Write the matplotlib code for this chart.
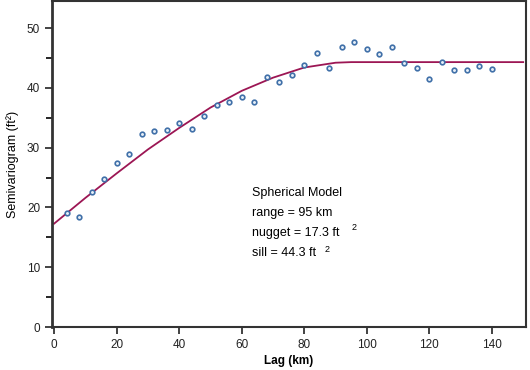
import numpy as np
import matplotlib.pyplot as plt

plt.rcParams["font.family"] = ["Liberation Sans", "DejaVu Sans"]

# experimental semivariogram (lag in km, gamma in ft^2)
lag = [4, 8, 12, 16, 20, 24, 28, 32, 36, 40, 44, 48, 52, 56, 60, 64, 68,
       72, 76, 80, 84, 88, 92, 96, 100, 104, 108, 112, 116, 120, 124, 128,
       132, 136, 140]
gamma = [19.0, 18.4, 22.6, 24.7, 27.5, 28.9, 32.3, 32.7, 32.9, 34.1, 33.1,
         35.3, 37.1, 37.7, 38.4, 37.7, 41.8, 40.9, 42.2, 43.8, 45.9, 43.3,
         46.9, 47.6, 46.5, 45.7, 46.9, 44.1, 43.3, 41.5, 44.3, 42.9, 42.9,
         43.6, 43.2]

# fitted spherical model
model_lag = [0, 10, 20, 30, 40, 50, 60, 70, 80, 90, 95, 150]
model_gamma = [17.3, 21.6, 25.7, 29.7, 33.3, 36.7, 39.5, 41.7, 43.4, 44.2, 44.3, 44.3]

fig = plt.figure(figsize=(5.3, 3.7), dpi=100)
ax = fig.add_axes([0.098, 0.116, 0.895, 0.881])

ax.plot(model_lag, model_gamma, color="#9c1654", linewidth=1.3, zorder=2)
ax.scatter(lag, gamma, s=11, facecolors="#e8f0f8", edgecolors="#3f6fa8",
           linewidths=1.2, zorder=3)

ax.set_xlim(-0.7, 151)
ax.set_ylim(0, 54.5)
ax.set_xticks(np.arange(0, 141, 20))
ax.set_yticks(np.arange(0, 51, 10))
ax.set_yticks(np.arange(5, 51, 10), minor=True)
ax.tick_params(direction="out", length=5, width=1.2, labelsize=8.5, colors="#222222")
ax.tick_params(which="minor", length=4, width=1.2)

for s in ax.spines.values():
    s.set_color("#333333")
    s.set_linewidth(1.5)
ax.spines["left"].set_linewidth(2)

ax.set_xlabel("Lag (km)", fontsize=8.5, fontweight="bold", labelpad=3)
ax.set_ylabel("Semivariogram (ft²)", fontsize=9, labelpad=6)

fs = 9
ax.text(63.3, 22.4, "Spherical Model", fontsize=fs, va="center")
ax.text(63.3, 19.1, "range = 95 km", fontsize=fs, va="center")
ax.text(63.3, 15.7, "nugget = 17.3 ft", fontsize=fs, va="center")
ax.text(63.3, 12.4, "sill = 44.3 ft", fontsize=fs, va="center")
ax.text(95.2, 16.6, "2", fontsize=6.5, va="center")
ax.text(86.6, 12.9, "2", fontsize=6.5, va="center")

fig.savefig("out.png", dpi=100)
